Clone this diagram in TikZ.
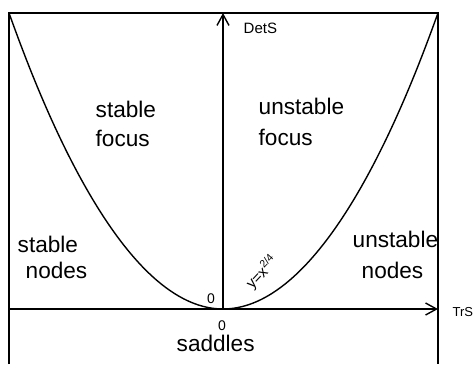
\documentclass[tikz,border=0pt]{standalone}
\usepackage{fontspec}
\setmainfont{Liberation Sans}
\usetikzlibrary{arrows.meta}
\begin{document}
\begin{tikzpicture}[x=0.5pt,y=-0.5pt,line width=0.7pt,
  every node/.style={inner sep=0pt},
  region/.style={anchor=base west,font=\fontsize{11.3}{13}\selectfont},
  axislbl/.style={anchor=base west,font=\fontsize{7.5}{9}\selectfont},
  zerolbl/.style={anchor=base,font=\fontsize{7}{8}\selectfont},
  axisarrow/.style={-{Straight Barb[length=5.5pt,width=6pt]}}]
\useasboundingbox (0,0) rectangle (476,364);
% frame corners and origin
\coordinate (tl) at (9,13); \coordinate (tr) at (438,13);
\coordinate (bl) at (9,364); \coordinate (br) at (438,364);
\coordinate (o) at (223,309);
\coordinate (xl) at (9,309); \coordinate (xr) at (438,309);
\coordinate (yt) at (223,13);
% frame
\draw (bl) -- (tl) -- (tr) -- (br);
% axes
\draw[axisarrow] (xl) -- (xr);
\draw[axisarrow] (o) -- (yt);
% parabola y = x^2/4 through the top corners
\draw (tl) parabola bend (o) (tr);
% axis labels
\node[axislbl] (dets) at (243,33) {DetS};
\node[axislbl,font=\fontsize{6.5}{8}\selectfont] (trs) at (452,316) {TrS};
\node[zerolbl] (zup) at (211,303) {0};
\node[zerolbl] (zdn) at (222,330) {0};
\node[rotate=47,font=\fontsize{7.5}{8}\selectfont] (curve) at (262,272) {y=x\textsuperscript{2/4}};
% regions
\node[region] (sf1) at (95,117) {stable};
\node[region] (sf2) at (95,146) {focus};
\node[region] (uf1) at (258,114) {unstable};
\node[region] (uf2) at (258,145) {focus};
\node[region] (sn1) at (17,252) {stable};
\node[region] (sn2) at (25,278) {nodes};
\node[region] (un1) at (352,247) {unstable};
\node[region] (un2) at (361,278) {nodes};
\node[region] (sad) at (176,351) {saddles};
\end{tikzpicture}
\end{document}
